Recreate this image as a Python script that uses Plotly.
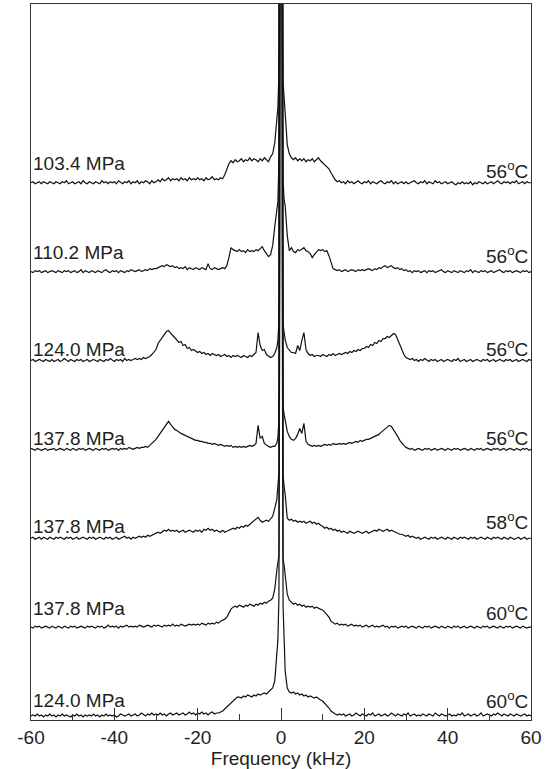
import numpy as np
import plotly.graph_objects as go

# Frequency grid (kHz): 0.5 kHz steps on the wings, 0.25 kHz across the central line
freq_left = np.arange(-60.0, -1.25, 0.5)      # -60 ... -1.5
freq_core = np.arange(-1.0, 1.01, 0.25)       # -1 ... 1
freq_right = np.arange(1.5, 60.01, 0.5)       # 1.5 ... 60
FREQ = np.concatenate([freq_left, freq_core, freq_right])

# Run conditions, top spectrum first
pressure = ["103.4 MPa", "110.2 MPa", "124.0 MPa", "137.8 MPa", "137.8 MPa", "137.8 MPa", "124.0 MPa"]
temperature = ["56", "56", "56", "56", "58", "60", "60"]

# Axis ticks
tick_values = [-60, -40, -20, 0, 20, 40, 60]
tick_labels = ["-60", "-40", "-20", "0", "20", "40", "60"]

# Spectral intensity (arbitrary units) on the FREQ grid
spec_103_56 = [
    0, 1, -1, 0, 1, -1, 1, 0, -1, 1,
    0, -1, 1, 0, -1, 1, 0, 2, -1, 0,
    1, -1, 0, 1, -1, 2, 0, -1, 1, 0,
    -1, 1, 0, -1, 2, 0, 1, -1, 1, 0,
    1, -1, 2, 0, -1, 1, 0, 2, -1, 1,
    0, 2, -1, 1, 0, 2, 1, -1, 2, 0,
    1, 3, 1, 4, 2, 3, 5, 2, 4, 3,
    4, 2, 5, 3, 4, 2, 5, 3, 4, 3,
    5, 3, 4, 2, 5, 3, 4, 6, 3, 4,
    3, 5, 4, 8, 13, 19, 22, 20, 23, 21,
    22, 24, 21, 23, 22, 25, 22, 24, 23, 21,
    24, 22, 25, 23, 21, 26, 29, 40,
    68, 75, 110, 600, 2500, 600, 100, 80, 70,
    38, 29, 25, 23, 25, 22, 24,
    22, 24, 21, 23, 22, 24, 21, 23, 25, 22,
    20, 19, 17, 14, 10, 6, 3, 1, 2, 0,
    1, -1, 2, 0, 1, -1, 1, 2, 0, -1,
    1, 0, 2, -1, 1, 0, -1, 1, 2, 0,
    -1, 1, 0, 2, -1, 1, -1, 0, 1, -1,
    1, -1, 0, 1, 2, 0, -1, 1, 0, 2,
    -1, 1, 0, -1, 2, 0, 1, -1, 0, 1,
    -1, 0, 1, -1, -2, 0, -1, 1, -1, 0,
    -1, 1, -2, 0, -1, 1, 0, -1, 1, -1,
    0, 1, -1, 1, 2, 0, -1, 1, 0, 1,
    -1, 1, 0, 2, -1, 0, 1, -1, 1, 0,
    0,
]

spec_110_56 = [
    0, -1, 1, 0, 1, -1, 0, 1, -1, 0,
    1, 0, -1, 1, 0, -1, 1, 0, 1, -1,
    0, 1, -1, 0, 2, -1, 1, 0, -1, 1,
    0, -1, 1, 0, -1, 1, 2, 0, -1, 1,
    0, 1, -1, 1, 0, -1, 1, 0, 2, 1,
    0, 1, 2, 0, 1, 2, 1, 3, 2, 3,
    3, 4, 5, 6, 5, 7, 6, 5, 6, 4,
    5, 3, 4, 3, 5, 2, 4, 3, 2, 4,
    3, 2, 4, 3, 2, 8, 3, 2, 4, 3,
    2, 3, 4, 3, 6, 14, 24, 22, 21, 20,
    22, 20, 21, 19, 22, 20, 21, 20, 22, 21,
    23, 25, 21, 18, 15, 17, 26, 45,
    66, 70, 110, 600, 2500, 600, 90, 72, 66,
    36, 21, 24, 20, 19, 22, 21,
    23, 24, 21, 20, 18, 14, 17, 20, 22, 21,
    22, 20, 21, 16, 9, 3, 2, 1, 2, 0,
    1, 2, 0, 1, 2, 1, 0, 2, 1, 2,
    1, 2, 3, 2, 1, 3, 2, 4, 3, 5,
    6, 4, 5, 6, 4, 3, 4, 2, 3, 1,
    2, 0, 1, -1, 1, 0, 1, -1, 0, 1,
    -1, 1, 0, 1, -1, 0, 1, 2, 0, -1,
    1, 0, -1, 1, 0, -1, 1, 0, -1, 1,
    0, 2, -1, 1, 0, -1, 1, 0, 1, -1,
    0, 1, -1, 0, 1, 2, 0, -1, 1, 0,
    1, -1, 0, 1, 0, -1, 1, 0, 1, -1,
    0,
]

spec_124_56 = [
    0, 1, -1, 0, 1, 0, -1, 1, 0, -1,
    1, -1, 0, 1, -1, 0, 2, 0, -1, 1,
    0, -1, 1, 0, 1, -1, 0, 1, -1, 0,
    1, 0, -1, 1, 0, -1, 1, 0, 2, 0,
    -1, 1, 0, 1, -1, 2, 0, 1, 0, 1,
    2, 1, 2, 1, 3, 2, 3, 4, 6, 8,
    11, 17, 20, 23, 26, 29, 30, 27, 25, 23,
    21, 18, 19, 15, 16, 12, 13, 10, 11, 9,
    8, 9, 7, 8, 6, 7, 5, 7, 6, 5,
    6, 4, 5, 6, 4, 5, 3, 5, 4, 5,
    4, 3, 5, 4, 3, 5, 4, 6, 8, 28,
    15, 10, 11, 6, 4, 3, 4, 7,
    13, 20, 40, 600, 2500, 600, 36, 28, 21,
    13, 10, 8, 8, 7, 15, 10,
    20, 28, 11, 7, 5, 6, 4, 5, 5, 4,
    6, 5, 4, 6, 5, 7, 5, 6, 7, 6,
    7, 8, 7, 9, 8, 10, 9, 11, 10, 12,
    12, 14, 13, 16, 15, 18, 17, 20, 19, 22,
    22, 24, 23, 25, 27, 26, 21, 16, 10, 6,
    3, 2, 1, 2, 0, 1, -1, 1, 0, 2,
    0, -1, 1, 0, 1, -1, 0, 1, -1, 0,
    1, 0, -1, 1, 0, 2, -1, 0, 1, -1,
    0, 1, -1, 0, 1, 0, -1, 1, 0, 1,
    -1, 0, 1, -1, 0, 1, 0, -1, 1, 0,
    1, -1, 0, 1, -1, 0, 1, 0, -1, 1,
    0,
]

spec_138_56 = [
    1, 0, -1, 1, 0, -1, 0, 1, -1, 0,
    0, 1, -1, 0, 1, 0, -1, 1, 0, -1,
    1, 0, -1, 1, 0, 1, -1, 0, 1, 0,
    -1, 1, 0, -1, 1, 0, 1, -1, 0, 1,
    0, 1, -1, 1, 0, 1, 0, 2, 1, 0,
    1, 2, 1, 2, 2, 3, 2, 4, 5, 7,
    10, 13, 16, 19, 22, 25, 28, 25, 22, 20,
    19, 17, 16, 15, 14, 13, 12, 11, 10, 9,
    9, 8, 8, 7, 7, 6, 6, 5, 6, 5,
    4, 5, 4, 3, 4, 3, 4, 2, 3, 2,
    3, 2, 3, 2, 3, 4, 3, 4, 6, 24,
    11, 13, 6, 4, 3, 2, 3, 3,
    6, 12, 29, 600, 2500, 600, 42, 35, 28,
    18, 13, 10, 9, 11, 15, 21,
    16, 26, 8, 5, 4, 3, 4, 3, 4, 3,
    4, 5, 4, 5, 4, 6, 5, 5, 6, 5,
    6, 5, 6, 7, 6, 7, 8, 7, 9, 8,
    9, 10, 10, 11, 12, 13, 14, 15, 17, 19,
    21, 22, 24, 23, 20, 17, 13, 9, 6, 4,
    2, 1, 0, 1, -1, 0, 1, 0, -1, 1,
    0, 1, -1, 0, 1, -1, 0, 1, 0, -1,
    1, 0, -1, 1, 0, 1, -1, 0, 1, 0,
    -1, 1, 0, -1, 1, 0, 1, -1, 0, 1,
    0, -1, 1, 0, 1, -1, 0, 1, -1, 0,
    1, 0, -1, 1, 0, -1, 1, 0, 1, -1,
    0,
]

spec_138_58 = [
    0, 1, -1, 0, 1, -1, 1, 0, -1, 1,
    0, -1, 1, 0, 1, 0, -1, 1, 0, 1,
    -1, 0, 1, -1, 0, 1, 0, -1, 1, 0,
    1, -1, 0, 1, 0, -1, 1, 0, 1, -1,
    0, 1, -1, 0, 1, 2, 0, 1, -1, 1,
    0, 1, 2, 1, 2, 1, 3, 2, 3, 4,
    5, 6, 5, 7, 8, 7, 9, 7, 8, 7,
    8, 6, 7, 8, 6, 7, 8, 7, 6, 8,
    7, 8, 6, 9, 8, 10, 8, 9, 7, 8,
    7, 6, 8, 6, 7, 8, 9, 10, 9, 11,
    10, 12, 11, 13, 12, 14, 15, 17, 19, 21,
    18, 16, 17, 18, 17, 19, 22, 30,
    39, 52, 66, 700, 2500, 700, 62, 52, 44,
    20, 18, 19, 17, 18, 16, 17,
    16, 17, 15, 16, 17, 15, 16, 14, 15, 13,
    12, 10, 11, 9, 10, 8, 9, 7, 8, 6,
    7, 6, 5, 7, 6, 5, 6, 7, 6, 5,
    6, 7, 5, 6, 7, 8, 7, 9, 8, 7,
    8, 9, 7, 8, 7, 6, 5, 4, 4, 3,
    2, 3, 1, 2, 1, 0, 1, -1, 0, 1,
    0, -1, 1, 0, 1, -1, 0, 1, 0, -1,
    1, 0, -1, 1, 0, -1, 1, 0, 1, 0,
    -1, 1, 0, 1, -1, 0, 1, 0, -1, 1,
    0, -1, 1, 0, 1, 0, -1, 1, 0, -1,
    1, 0, -1, 0, 1, -1, 0, 1, -1, 0,
    0,
]

spec_138_60 = [
    0, -1, 1, 0, 1, -1, 0, 1, 0, -1,
    1, 0, -1, 1, 0, -1, 1, 0, -1, 1,
    0, 1, -1, 0, 1, 0, -1, 1, 0, 1,
    0, -1, 1, 0, 1, -1, 0, 2, 0, 1,
    0, 1, -1, 1, 0, 1, 2, 0, 1, 0,
    1, 0, 2, 1, 0, 1, 2, 1, 0, 2,
    1, 2, 1, 0, 2, 1, 2, 1, 3, 1,
    2, 1, 3, 2, 1, 2, 3, 2, 3, 2,
    3, 2, 4, 3, 2, 4, 3, 4, 3, 5,
    4, 6, 7, 8, 10, 14, 18, 20, 21, 20,
    22, 21, 20, 22, 21, 23, 22, 21, 23, 22,
    24, 23, 25, 24, 26, 27, 29, 38,
    57, 65, 72, 800, 2500, 800, 68, 62, 52,
    33, 27, 25, 23, 24, 22, 23,
    21, 22, 20, 21, 20, 21, 19, 20, 19, 18,
    17, 15, 13, 10, 6, 4, 3, 4, 2, 3,
    2, 3, 1, 2, 3, 1, 2, 1, 2, 0,
    1, 2, 0, 1, 2, 0, 1, 0, 1, 2,
    0, 1, -1, 1, 0, 1, -1, 0, 1, 0,
    1, -1, 0, 1, 0, -1, 1, 0, -1, 1,
    0, 1, -1, 0, 1, 0, -1, 1, 0, -1,
    1, 0, -1, 1, 0, 1, -1, 0, 1, -1,
    0, 1, 0, -1, 1, 0, -1, 1, 0, 1,
    -1, 0, 1, 0, -1, 1, 0, -1, 1, 0,
    1, -1, 0, 1, 0, -1, 1, 0, -1, 0,
    0,
]

spec_124_60 = [
    0, 1, 0, 2, 0, 1, -1, 1, 0, 2,
    0, 1, -1, 1, 0, 2, 0, 1, 0, -1,
    1, 0, 2, 0, 1, -1, 1, 0, 1, 0,
    2, 0, 1, -1, 1, 0, 2, 0, 1, 0,
    1, -1, 0, 2, 1, 0, 1, 2, 0, 1,
    2, 0, 1, 3, 1, 0, 2, 1, 3, 1,
    2, 1, 3, 1, 2, 0, 2, 3, 1, 2,
    3, 1, 2, 3, 1, 2, 4, 2, 3, 1,
    3, 2, 4, 2, 3, 1, 3, 4, 2, 3,
    3, 4, 5, 7, 9, 11, 14, 16, 18, 19,
    19, 18, 20, 19, 21, 20, 19, 21, 20, 22,
    21, 22, 23, 22, 24, 25, 28, 35,
    60, 76, 118, 500, 2500, 500, 110, 69, 45,
    28, 24, 23, 24, 22, 23, 21,
    22, 20, 21, 19, 20, 19, 18, 19, 17, 16,
    15, 13, 11, 8, 5, 3, 2, 1, 2, 1,
    2, 0, 1, 2, 0, 1, 3, 1, 0, 2,
    1, 0, 2, 1, 3, 0, 1, 2, 0, 1,
    2, 0, 1, 3, 1, 0, 2, 1, 0, 2,
    1, 3, 0, 1, 2, 0, 1, 0, 2, 1,
    0, 2, 1, 0, 3, 1, 0, 2, 1, 0,
    1, 2, 0, 1, 0, 2, 1, 3, 0, 1,
    2, 0, 1, 2, 0, 1, 3, 0, 1, 2,
    1, 0, 2, 1, 3, 1, 0, 2, 1, 0,
    2, 1, 0, 2, 1, 0, 1, 2, 0, 1,
    0,
]

spectra = [spec_103_56, spec_110_56, spec_124_56, spec_138_56,
           spec_138_58, spec_138_60, spec_124_60]

# Stacking: each spectrum sits on its own baseline
BASE = 4.0       # baseline of the lowest spectrum
STEP = 89.0      # vertical spacing between spectra
Y_TOP = 717.0    # upper limit of the plotting window (clips the central line)

# text baseline of each label above its spectrum baseline
left_lift = [12.5, 12.4, 4.3, 4.3, 5.3, 12.3, 9.3]
right_lift = [5.0, 9.0, 4.3, 4.3, 9.3, 6.7, 7.7]

FONT = "Liberation Sans, Arial, Helvetica, sans-serif"
INK = "#231f20"

fig = go.Figure()
n = len(spectra)
for k, spec in enumerate(spectra):
    if len(spec) != len(FREQ):
        raise ValueError(f"spectrum {k} has {len(spec)} points, grid has {len(FREQ)}")
    base = BASE + STEP * (n - 1 - k)
    fig.add_trace(go.Scatter(
        x=FREQ, y=base + np.asarray(spec, dtype=float),
        mode="lines", line=dict(color="#111111", width=1.2),
        showlegend=False, hoverinfo="skip",
    ))
    fig.add_annotation(
        x=-60, y=base + left_lift[k], xref="x", yref="y",
        text=pressure[k], showarrow=False, xanchor="left", yanchor="bottom",
        xshift=1, yshift=-5, borderpad=0,
        font=dict(family=FONT, size=19, color=INK),
    )
    fig.add_annotation(
        x=60, y=base + right_lift[k], xref="x", yref="y",
        text=f"{temperature[k]}<sup>o</sup>C", showarrow=False,
        xanchor="right", yanchor="bottom",
        xshift=-2, yshift=-5, borderpad=0,
        font=dict(family=FONT, size=19, color=INK),
    )

fig.update_layout(
    width=545, height=769,
    margin=dict(l=31, r=12, t=3, b=49),
    paper_bgcolor="white", plot_bgcolor="white",
    font=dict(family=FONT, size=19, color=INK),
    xaxis=dict(
        range=[-60, 60], tickmode="array", tickvals=tick_values, ticktext=tick_labels,
        ticks="inside", ticklen=12, tickwidth=1, tickcolor="#333333",
        minor=dict(tickmode="linear", tick0=-60, dtick=10, ticks="inside",
                   ticklen=6, tickwidth=1, tickcolor="#333333"),
        showline=True, linecolor="#333333", linewidth=1.3, mirror=True,
        showgrid=False, zeroline=False,
        tickfont=dict(family=FONT, size=19, color=INK),
        title=dict(text="Frequency (kHz)", font=dict(family=FONT, size=19, color=INK), standoff=4),
    ),
    yaxis=dict(
        range=[0, Y_TOP], showticklabels=False, ticks="",
        showline=True, linecolor="#333333", linewidth=1.3, mirror=True,
        showgrid=False, zeroline=False,
    ),
)

fig.write_html("out.html")
